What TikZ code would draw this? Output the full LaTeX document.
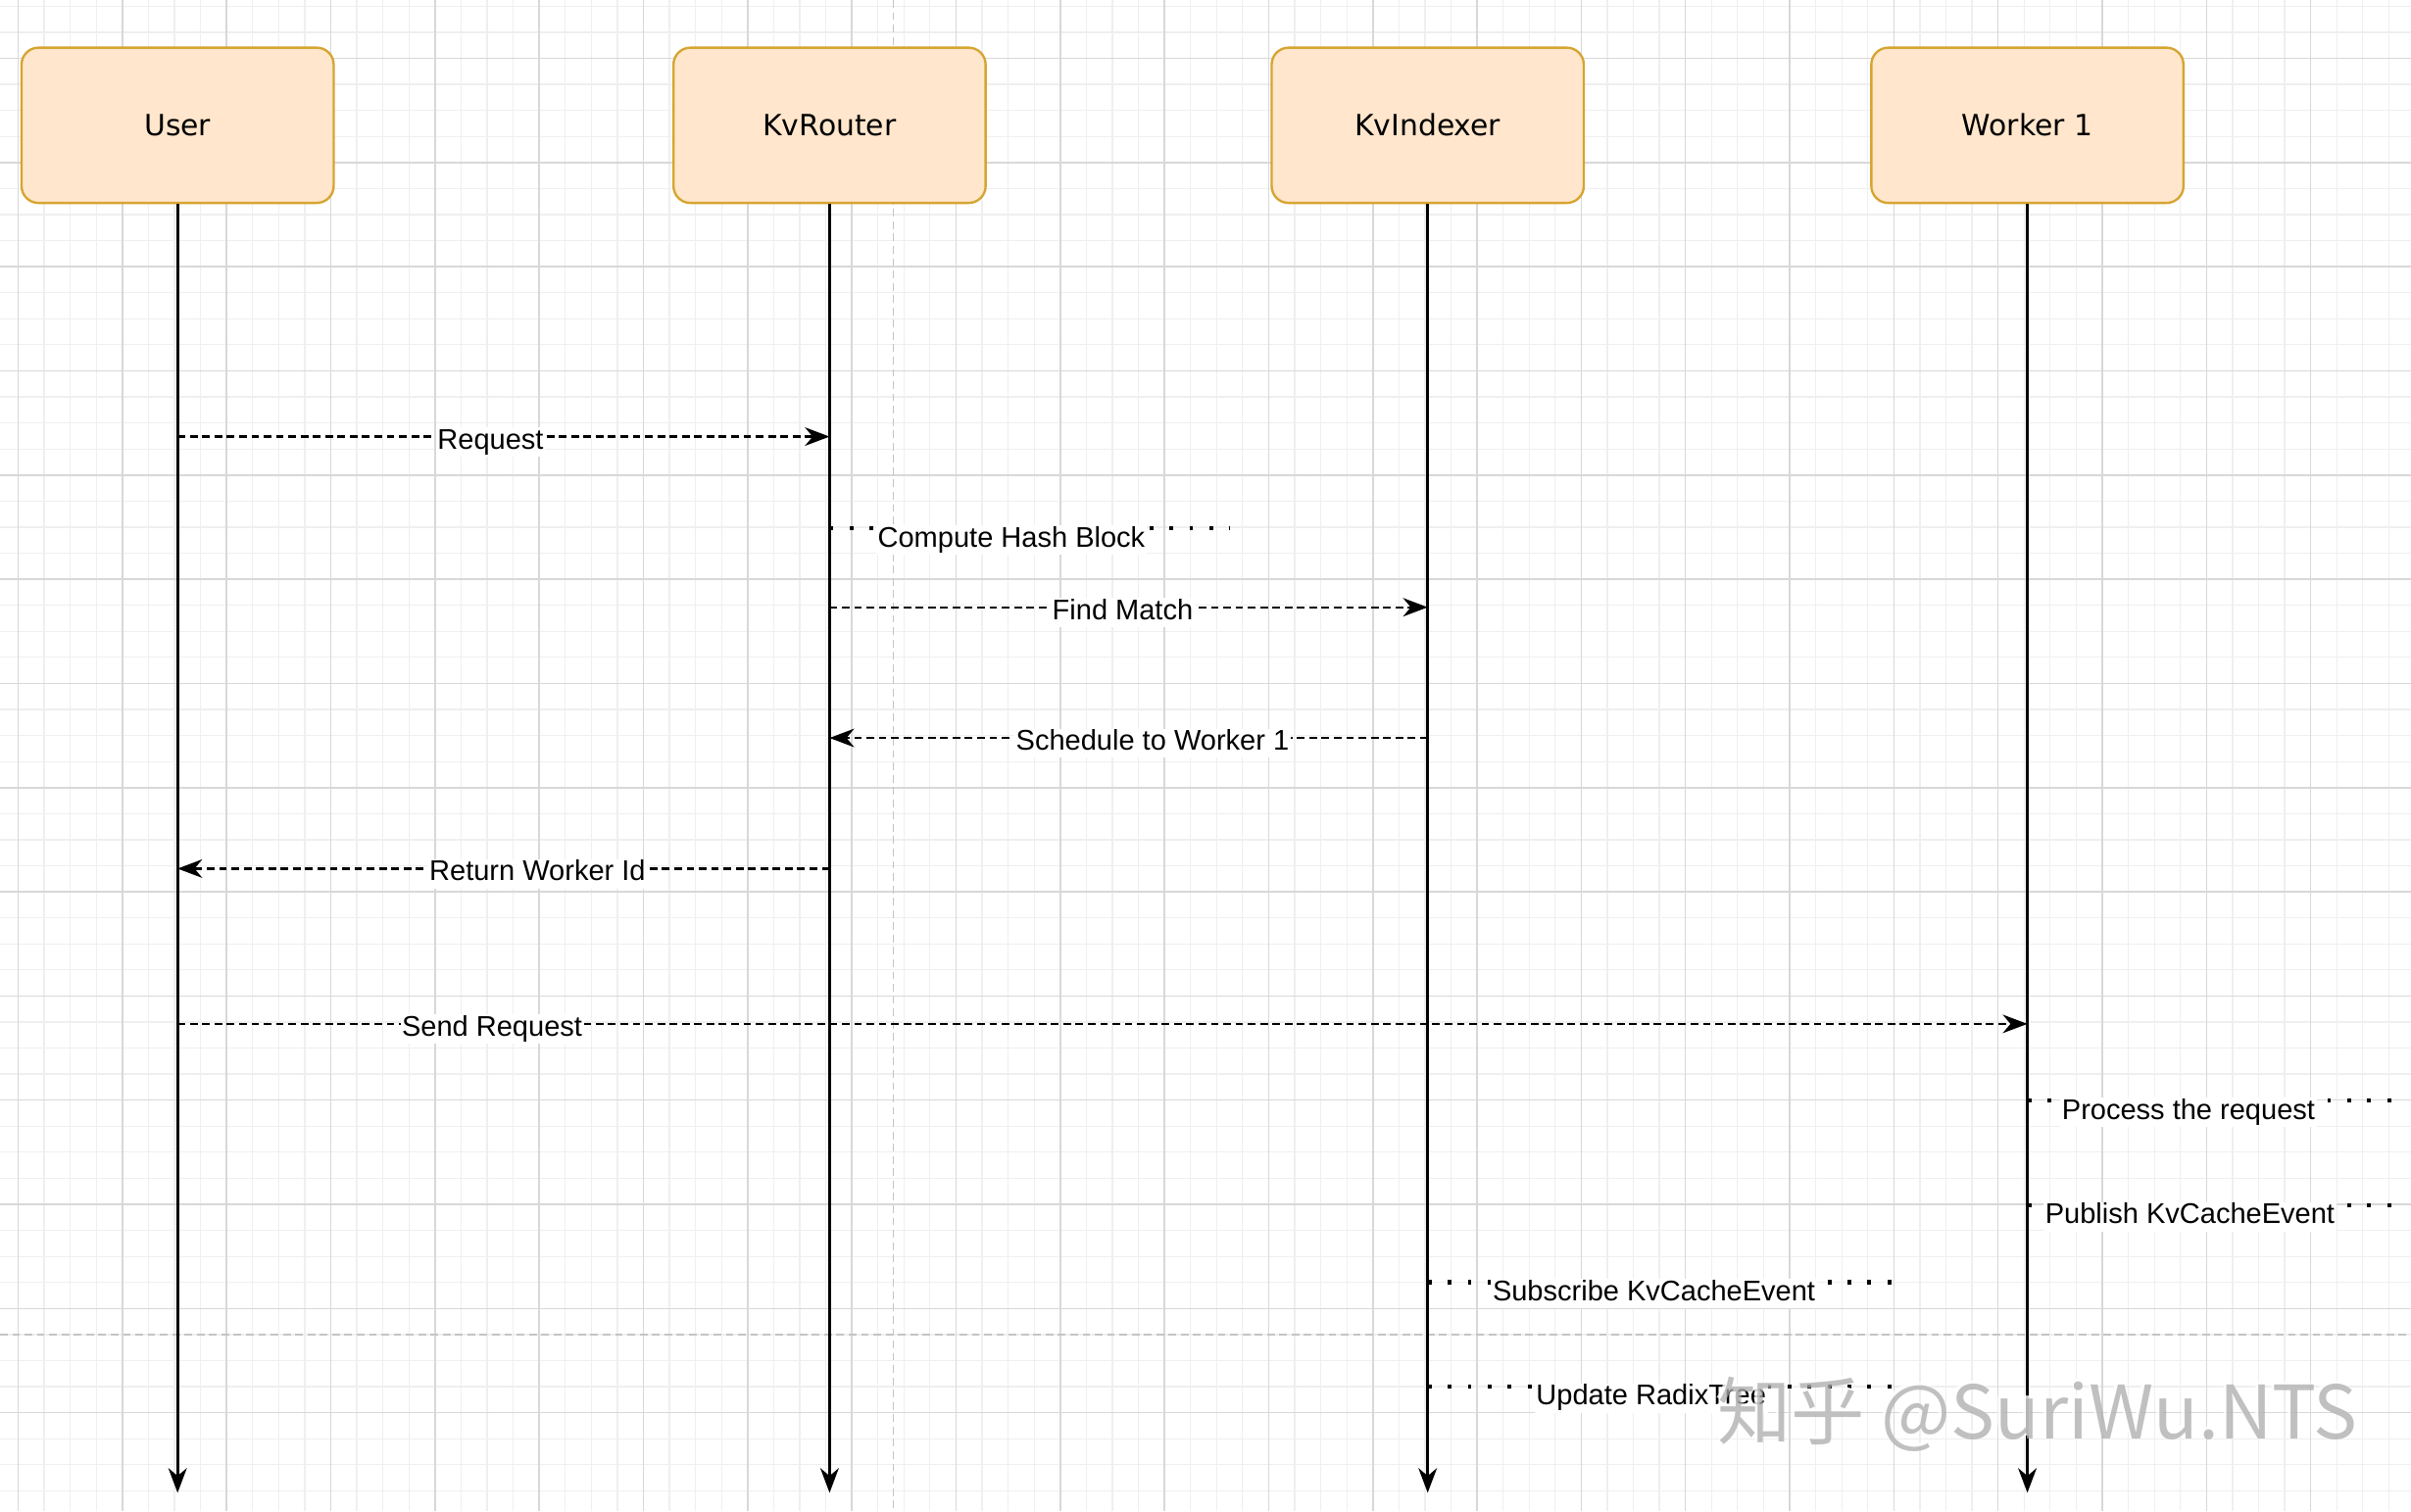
\documentclass[tikz,border=0pt]{standalone}
\usepackage{fontspec}
\setmainfont{Liberation Sans}
\newfontfamily\headfont{DejaVu Sans}
\newfontfamily\cjkfont{Noto Sans CJK SC}
\usetikzlibrary{positioning,arrows.meta}
\definecolor{headfill}{HTML}{FFE6CC}
\definecolor{headline}{HTML}{D6A531}
\definecolor{gridminor}{HTML}{EFEFEF}
\definecolor{gridmajor}{HTML}{D8D8D8}
\definecolor{pageline}{HTML}{C4C4C4}

\tikzset{
  head/.style={draw=headline, fill=headfill, line width=1.5pt, rounded corners=11pt,
    minimum width=203pt, minimum height=101pt, font=\headfont\fontsize{19}{22}\selectfont},
  life/.style={->, line width=1.7pt},
  msg/.style={->, line width=1.5pt, dash pattern=on 5pt off 3pt},
  selfmsg/.style={line width=2.6pt, dash pattern=on 2.5pt off 10.5pt},
  lbl/.style={fill=white, inner sep=1pt, outer sep=0pt, text height=13pt, text depth=4pt,
    font=\fontsize{18.5}{21}\selectfont},
  mlbl/.style={lbl, yshift=-3.5pt},
  slbl/.style={lbl, anchor=north, yshift=2pt},
  page/.style={pageline, line width=1pt, dash pattern=on 5pt off 3pt},
}

\begin{document}
\begin{tikzpicture}[x=1pt,y=-1pt,on grid,>={Stealth[length=16pt,width=12pt,inset=5pt]}]
  \useasboundingbox (0,0) rectangle (1568,983);
  \fill[white] (0,0) rectangle (1568,983);
  % grid
  \foreach \i in {0,...,93}
    \draw[gridminor, line width=0.8pt] ({11.8+(\i-1)*16.9425},0) -- ++(0,983);
  \foreach \j in {0,...,59}
    \draw[gridminor, line width=0.8pt] (0,{37.9+(\j-2)*16.9425}) -- ++(1568,0);
  \foreach \i in {0,...,23}
    \draw[gridmajor, line width=1pt] ({11.8+\i*67.77},0) -- ++(0,983);
  \foreach \j in {0,...,15}
    \draw[gridmajor, line width=1pt] (0,{37.9+(\j-1)*67.77}) -- ++(1568,0);
  \draw[page] (581,0) -- (581,983);
  \draw[page] (0,868) -- (1568,868);

  \node[head] (user) at (115.5,81.5) {User};
  \node[head, right=424pt of user] (router) {KvRouter};
  \node[head, right=389pt of router] (indexer) {KvIndexer};
  \node[head, right=390pt of indexer] (worker) {Worker 1};

  \coordinate (bottom) at (0,971);
  \foreach \n in {user,router,indexer,worker}
    \draw[life] (\n.south) -- (\n.south |- bottom);

  \coordinate (m1) at (0,284);
  \coordinate (m2) at (0,395);
  \coordinate (m3) at (0,480);
  \coordinate (m4) at (0,565);
  \coordinate (m5) at (0,666);
  \coordinate (s1) at (800,343.8);
  \coordinate (s2) at (1555,716);
  \coordinate (s3) at (1555,784);
  \coordinate (s4) at (1230,834);
  \coordinate (s5) at (1230,902);

  \draw[msg] (user |- m1) -- node[mlbl, pos=.48] {Request} (router |- m1);
  \draw[selfmsg] (router |- s1) -- node[slbl, pos=.454] {Compute Hash Block} (s1);
  \draw[msg] (router |- m2) -- node[mlbl, pos=.49] {Find Match} (indexer |- m2);
  \draw[msg] (indexer |- m3) -- node[mlbl, pos=.46] {Schedule to Worker 1} (router |- m3);
  \draw[msg] (router |- m4) -- node[mlbl, pos=.448] {Return Worker Id} (user |- m4);
  \draw[msg] (user |- m5) -- node[mlbl, pos=.17] {Send Request} (worker |- m5);
  \draw[selfmsg] (worker |- s2) -- node[slbl, pos=.443] {Process the request} (s2);
  \draw[selfmsg] (worker |- s3) -- node[slbl, pos=.447] {Publish KvCacheEvent} (s3);
  \draw[selfmsg] (indexer |- s4) -- node[slbl, pos=.488] {Subscribe KvCacheEvent} (s4);
  \draw[selfmsg] (indexer |- s5) -- node[slbl, pos=.482] {Update RadixTree} (s5);

  \node[anchor=base, font=\cjkfont\fontsize{48}{56}\selectfont, text=white, opacity=.8]
    (markbg) at (1323,934) {知乎 @SuriWu.NTS};
  \node[anchor=base, font=\cjkfont\fontsize{48}{56}\selectfont, text=gray!65, opacity=.75]
    (mark) at (1325,936) {知乎 @SuriWu.NTS};
\end{tikzpicture}
\end{document}
